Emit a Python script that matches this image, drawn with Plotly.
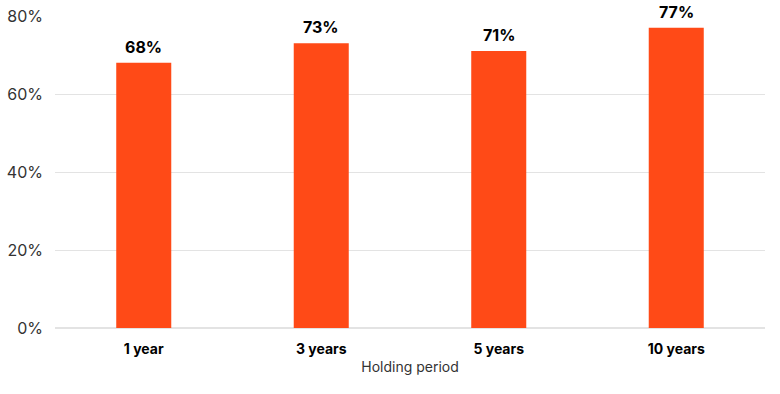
import plotly.graph_objects as go

categories = ["1 year", "3 years", "5 years", "10 years"]
values = [68, 73, 71, 77]
labels = ["68%", "73%", "71%", "77%"]
tick_vals = [0, 20, 40, 60, 80]
tick_text = ["0%", "20%", "40%", "60%", "80%"]

fig = go.Figure(go.Bar(
    x=categories, y=values,
    marker=dict(color="#FF4A17", line=dict(width=0)),
    hoverinfo="skip",
))
for c, v, t in zip(categories, values, labels):
    fig.add_annotation(
        x=c, y=v, text=t, showarrow=False, yanchor="bottom", yshift=4,
        font=dict(family="Inter", size=16, color="#000000", weight="bold"),
    )
fig.update_layout(
    width=780, height=394,
    margin=dict(l=55, r=15, t=16, b=66, autoexpand=False),
    paper_bgcolor="white", plot_bgcolor="white",
    bargap=0.69,
    showlegend=False,
    font=dict(family="Inter", color="#222222"),
)
fig.update_xaxes(
    automargin=False,
    tickfont=dict(family="Inter", size=14, color="#000000", weight="bold"),
    title=dict(text="Holding period", font=dict(family="Inter", size=14, color="#333333"), standoff=6),
    showline=False, ticks="outside", ticklen=8, tickcolor="rgba(0,0,0,0)",
)
fig.update_yaxes(
    automargin=False,
    range=[0, 80], tickvals=tick_vals, ticktext=tick_text,
    tickfont=dict(family="Inter", size=16, color="#333333"),
    showgrid=True, gridcolor="#e3e3e3", gridwidth=1,
    zeroline=True, zerolinecolor="#e3e3e3", zerolinewidth=2,
    ticklabelstandoff=11, ticklabeloverflow="allow",
)
fig.write_html("out.html", config={"displayModeBar": False},
               post_script="document.body.style.margin='0';")
